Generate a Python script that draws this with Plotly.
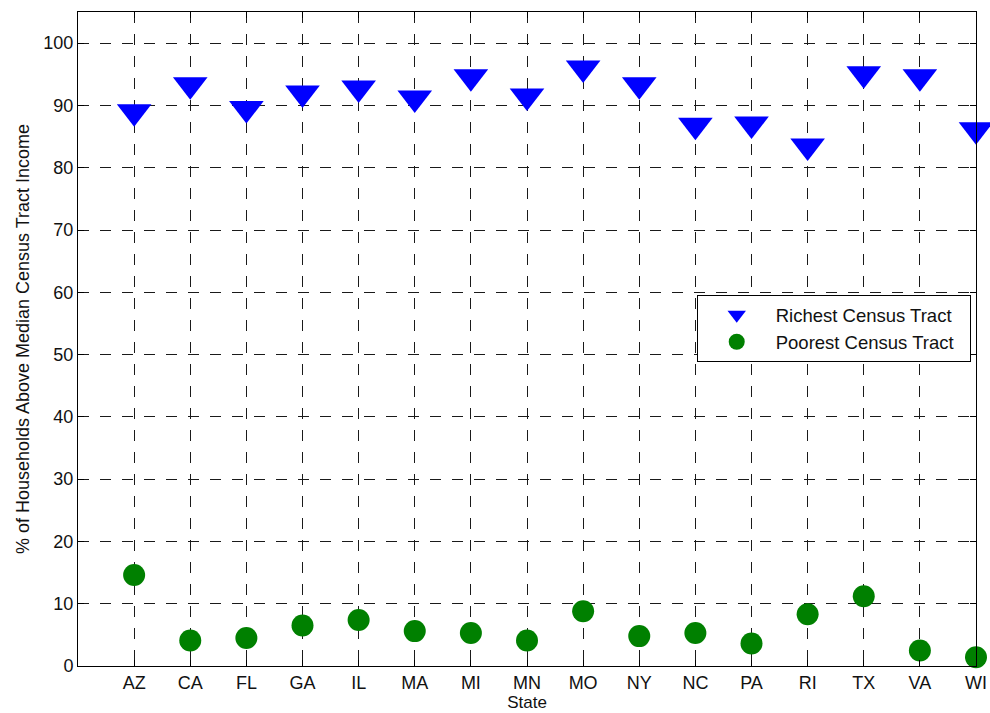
import plotly.graph_objects as go

states = ["AZ", "CA", "FL", "GA", "IL", "MA", "MI", "MN", "MO", "NY", "NC", "PA", "RI", "TX", "VA", "WI"]
richest = [89.0, 93.3, 89.5, 92.0, 92.8, 91.2, 94.6, 91.5, 96.0, 93.3, 86.8, 87.0, 83.5, 95.1, 94.6, 86.1]
poorest = [14.6, 4.1, 4.5, 6.5, 7.4, 5.6, 5.3, 4.1, 8.8, 4.8, 5.3, 3.6, 8.3, 11.2, 2.5, 1.4]
yticks = [0, 10, 20, 30, 40, 50, 60, 70, 80, 90, 100]

FONT = "Liberation Sans, Arial, Helvetica, sans-serif"
TXT = "#111111"
PAD = "\u00a0\u00a0"  # keeps the legend box as wide as the reference

fig = go.Figure()
fig.add_trace(go.Scatter(
    x=states, y=richest, mode="markers", name="Richest Census Tract" + PAD,
    marker=dict(symbol="triangle-down", size=30, color="#0000ff", line=dict(width=0)),
    cliponaxis=False,
))
fig.add_trace(go.Scatter(
    x=states, y=poorest, mode="markers", name="Poorest Census Tract" + PAD,
    marker=dict(symbol="circle", size=22, color="#008000", line=dict(width=0)),
    cliponaxis=False,
))

axis_common = dict(
    showline=True, linecolor="black", linewidth=1, mirror="allticks",
    ticks="inside", ticklen=6, tickcolor="black", tickwidth=1,
    showgrid=True, gridcolor="#1a1a1a", gridwidth=1, griddash="11px,11px",
    zeroline=False, tickfont=dict(family=FONT, size=18, color=TXT),
    automargin=False,
)

fig.update_xaxes(
    type="category", categoryorder="array", categoryarray=states,
    range=[-1, 15], title=dict(text="State", font=dict(family=FONT, size=17, color=TXT), standoff=2),
    **axis_common,
)
fig.update_yaxes(
    range=[0, 105], tickvals=yticks,
    title=dict(text="% of Households Above Median Census Tract Income",
               font=dict(family=FONT, size=18, color=TXT), standoff=9),
    **axis_common,
)

fig.update_layout(
    width=990, height=713,
    margin=dict(l=78, r=14, t=12, b=47),
    paper_bgcolor="white", plot_bgcolor="white",
    font=dict(family=FONT, size=18, color=TXT),
    showlegend=True,
    legend=dict(
        x=0.689, y=0.567, xanchor="left", yanchor="top",
        bgcolor="white", bordercolor="black", borderwidth=1,
        font=dict(family=FONT, size=18.5, color=TXT),
        itemwidth=68, tracegroupgap=0,
    ),
)

fig.write_html(
    "out.html",
    config={"displayModeBar": False},
    post_script="document.body.style.margin='0';document.body.style.overflow='hidden';",
)
